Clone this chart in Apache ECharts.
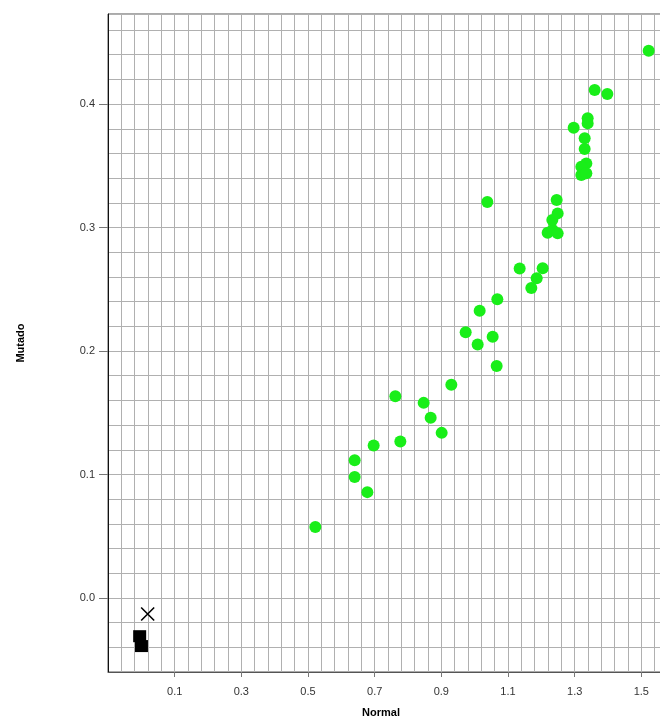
<!DOCTYPE html>
<html>
<head>
<meta charset="utf-8">
<script src="https://cdn.jsdelivr.net/npm/echarts@6/dist/echarts.min.js"></script>
<style>
  html, body { margin: 0; padding: 0; width: 660px; height: 718px; overflow: hidden; background: #fff; }
  #chart { width: 680px; height: 718px; }
</style>
</head>
<body>
<div id="chart"></div>
<script>
// Expression values per gene: normal tissue (x) vs mutated (y)
const normal = [
  0.522, 0.640, 0.640, 0.678, 0.697, 0.777, 0.762, 0.847, 0.868, 0.901,
  0.930, 0.973, 1.009, 1.054, 1.066, 1.015, 1.068, 1.038, 1.135, 1.170,
  1.186, 1.204, 1.219, 1.234, 1.249, 1.233, 1.249, 1.246, 1.297, 1.330,
  1.330, 1.335, 1.320, 1.320, 1.335, 1.339, 1.339, 1.360, 1.398, 1.522
];
const mutado = [
  0.0575, 0.1116, 0.098, 0.0857, 0.1235, 0.1267, 0.1634, 0.158, 0.1459, 0.1337,
  0.1726, 0.2153, 0.2053, 0.2115, 0.1878, 0.2326, 0.242, 0.3207, 0.2669, 0.251,
  0.259, 0.267, 0.2958, 0.298, 0.2953, 0.3061, 0.3115, 0.3223, 0.3809, 0.3723,
  0.3636, 0.352, 0.3493, 0.3425, 0.344, 0.3885, 0.3844, 0.4114, 0.4082, 0.4433
];

// Reference controls near the origin
const squareNormal = [-0.005, 0.0004];
const squareMutado = [-0.031, -0.039];
const crossNormal = [0.019];
const crossMutado = [-0.013];

// Labelled tick positions
const xTickLabels = [0.1, 0.3, 0.5, 0.7, 0.9, 1.1, 1.3, 1.5];
const yTickLabels = [0.0, 0.1, 0.2, 0.3, 0.4];

const pairs = (xs, ys) => xs.map((x, i) => [x, ys[i]]);

const X_MIN = -0.1, X_MAX = 1.58, X_STEP = 0.04;
const Y_MIN = -0.06, Y_MAX = 0.473, Y_STEP = 0.02;

const labelFont = { fontFamily: 'Liberation Sans, Arial, sans-serif', fontSize: 11, color: '#333' };
const nameFont = { fontFamily: 'Liberation Sans, Arial, sans-serif', fontSize: 11, fontWeight: 'bold', color: '#000' };
const gridLine = { show: true, lineStyle: { color: '#b0b0b0', width: 1 } };

// Axis that only draws the fine grid
const gridAxis = (min, max, step, position) => ({
  type: 'value', min: min, max: max, interval: step, position: position,
  axisLine: { show: false }, axisTick: { show: false }, axisLabel: { show: false },
  splitLine: gridLine
});

const chart = echarts.init(document.getElementById('chart'), null, { renderer: 'canvas' });
chart.setOption({
  animation: false,
  backgroundColor: '#fff',
  grid: {
    show: true,
    left: 108, top: 14, right: 12, bottom: 46,
    containLabel: false,
    outerBoundsMode: 'none',
    borderColor: '#555', borderWidth: 1,
    backgroundColor: '#fff'
  },
  xAxis: [
    {
      type: 'value',
      min: X_MIN, max: X_MAX, interval: X_STEP,
      position: 'bottom',
      name: 'Normal',
      nameLocation: 'middle',
      nameGap: 35,
      nameTextStyle: Object.assign({ padding: [0, 14, 0, 0] }, nameFont),
      axisLine: { show: true, onZero: false, lineStyle: { color: '#555', width: 1 } },
      axisTick: { show: true, length: 5, customValues: xTickLabels, lineStyle: { color: '#777' } },
      axisLabel: Object.assign({ margin: 14, customValues: xTickLabels, formatter: v => v.toFixed(1) }, labelFont),
      splitLine: { show: false }
    },
    gridAxis(X_MIN, X_MAX, X_STEP, 'top')
  ],
  yAxis: [
    {
      type: 'value',
      min: Y_MIN, max: Y_MAX, interval: Y_STEP,
      position: 'left',
      name: 'Mutado',
      nameLocation: 'middle',
      nameGap: 82,
      nameTextStyle: nameFont,
      axisLine: { show: true, onZero: false, lineStyle: { color: '#111', width: 1 } },
      axisTick: { show: true, length: 9, customValues: yTickLabels, lineStyle: { color: '#777' } },
      axisLabel: Object.assign({ margin: 13, customValues: yTickLabels, formatter: v => v.toFixed(1) }, labelFont),
      splitLine: { show: false }
    },
    gridAxis(Y_MIN, Y_MAX, Y_STEP, 'right')
  ],
  series: [
    {
      type: 'scatter',
      data: pairs(normal, mutado),
      symbol: 'circle',
      symbolSize: 12,
      itemStyle: { color: '#19ee19', opacity: 1 }
    },
    {
      type: 'scatter',
      data: pairs(squareNormal, squareMutado),
      symbol: 'rect',
      symbolSize: [13, 12],
      itemStyle: { color: '#000', opacity: 1 }
    },
    {
      type: 'scatter',
      data: pairs(crossNormal, crossMutado),
      symbol: 'path://M0,0L10,10M10,0L0,10',
      symbolSize: 13,
      itemStyle: { color: 'none', borderColor: '#000', borderWidth: 1.6, opacity: 1 }
    }
  ]
});
</script>
</body>
</html>
